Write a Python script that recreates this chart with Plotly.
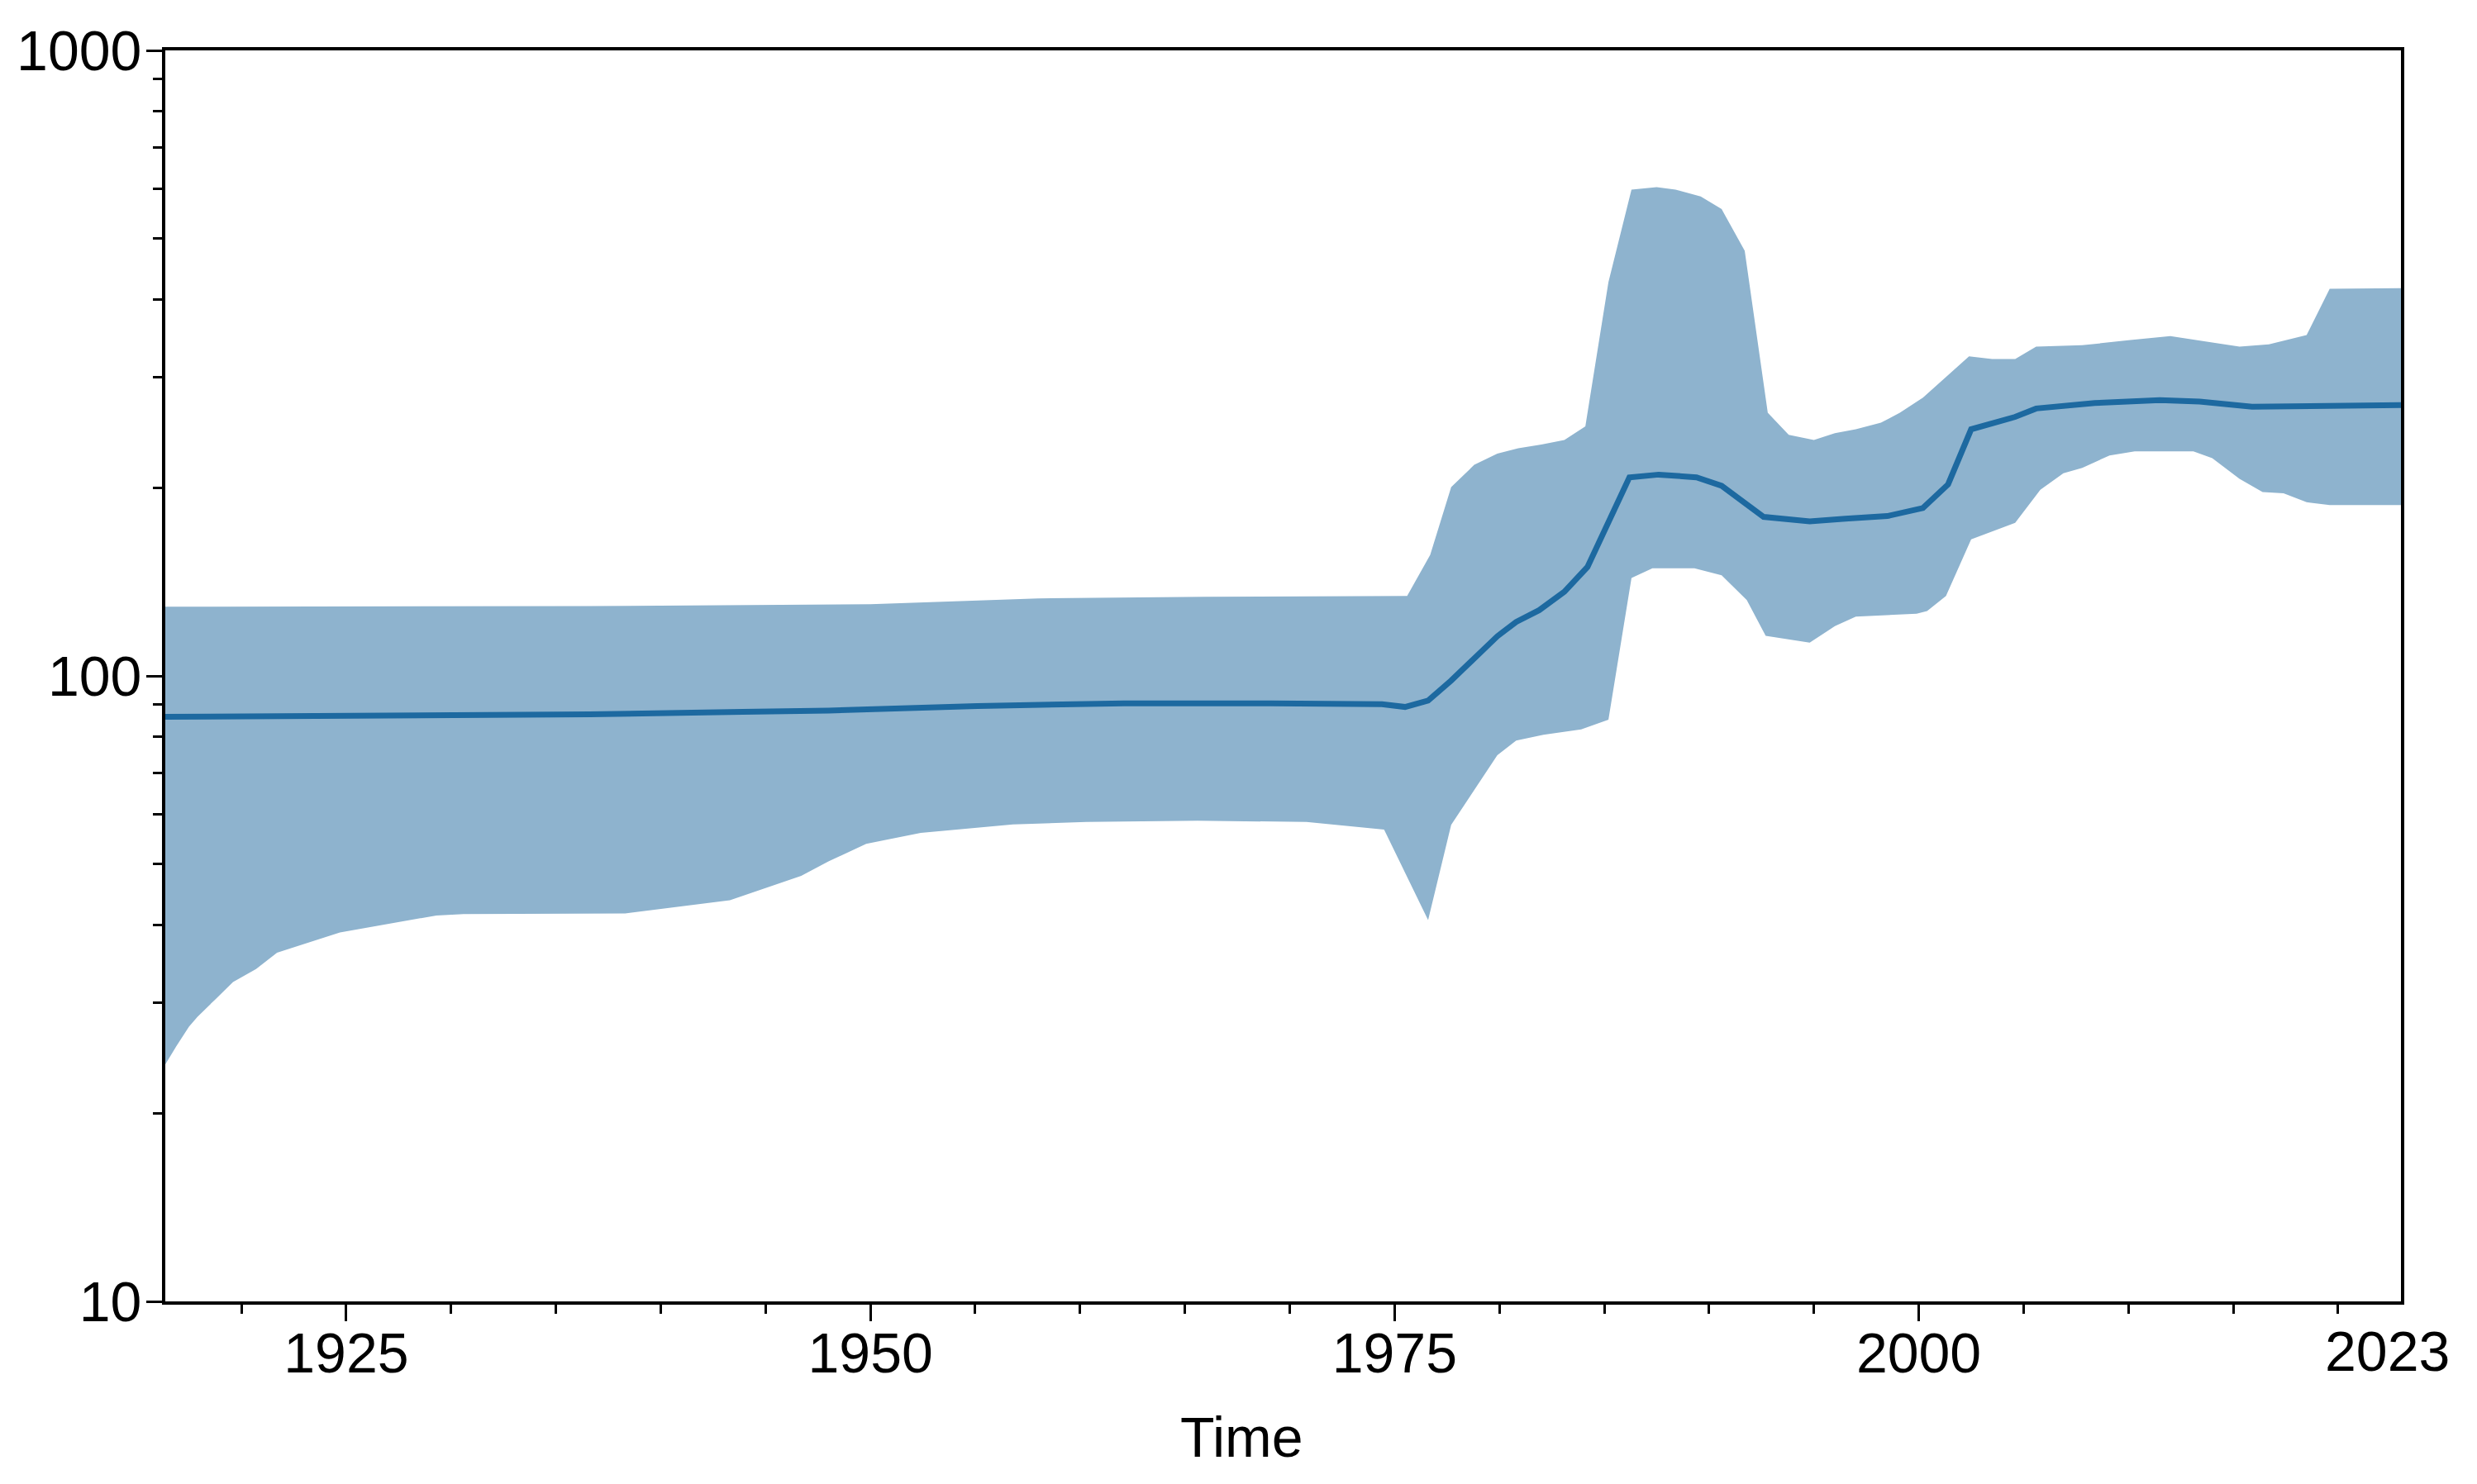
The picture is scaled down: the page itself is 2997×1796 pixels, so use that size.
import plotly.graph_objects as go

# ---- data (year, value) ----
upper_years = [1916.3, 1936.6, 1950.0, 1958.0, 1966.0, 1975.6, 1976.7, 1977.7, 1978.8, 1979.9,
               1980.9, 1982.0, 1983.1, 1984.1, 1985.2, 1986.3, 1987.5, 1988.4, 1989.6, 1990.6,
               1991.7, 1992.8, 1993.8, 1995.0, 1996.0, 1997.0, 1998.2, 1999.1, 2000.2, 2002.4,
               2003.5, 2004.6, 2005.6, 2007.8, 2010.0, 2012.0, 2014.0, 2015.3, 2016.7, 2018.5,
               2019.6, 2023.0]
upper_vals = [129.0, 129.3, 130.2, 133.0, 133.8, 134.2, 156.1, 200.4, 217.5, 226.6,
              231.2, 234.4, 238.3, 250.6, 426.1, 599.0, 604.4, 599.0, 584.0, 557.5,
              478.2, 263.5, 242.8, 238.3, 244.3, 247.9, 254.0, 263.5, 278.5, 324.3,
              321.0, 321.0, 336.0, 337.8, 344.0, 349.3, 341.2, 336.0, 338.8, 350.7,
              415.8, 416.6]

mid_years = [1916.3, 1936.6, 1943.9, 1948.0, 1955.1, 1962.1, 1969.1, 1974.4, 1975.5, 1976.6,
             1977.7, 1979.9, 1980.8, 1981.9, 1983.1, 1984.2, 1986.2, 1987.6, 1989.4, 1990.6,
             1992.6, 1994.8, 1996.5, 1998.5, 2000.2, 2001.4, 2002.5, 2004.6, 2005.6, 2008.4,
             2011.5, 2013.4, 2015.9, 2018.5, 2023.0]
mid_vals = [86.0, 86.8, 87.6, 88.0, 89.5, 90.4, 90.4, 90.1, 89.2, 91.3,
            98.3, 115.7, 122.0, 127.4, 136.3, 149.3, 207.7, 209.8, 207.7, 201.4,
            179.6, 176.6, 178.4, 180.1, 185.5, 202.4, 247.9, 259.5, 267.6, 273.1,
            275.9, 274.5, 269.4, 270.2, 271.0]

lower_years = [1916.3, 1916.9, 1917.5, 1917.9, 1918.8, 1919.6, 1920.7, 1921.7, 1922.8, 1924.7,
               1926.7, 1929.3, 1930.6, 1938.3, 1943.3, 1946.7, 1948.0, 1949.8, 1952.4, 1956.8,
               1960.3, 1965.6, 1970.8, 1974.5, 1976.6, 1977.7, 1979.9, 1980.8, 1982.1, 1983.9,
               1985.2, 1986.3, 1987.3, 1989.3, 1990.6, 1991.8, 1992.7, 1994.8, 1996.0, 1997.0,
               1999.9, 2000.4, 2001.3, 2002.5, 2004.6, 2005.8, 2006.9, 2007.8, 2009.1, 2010.3,
               2013.1, 2014.0, 2015.3, 2016.4, 2017.4, 2018.5, 2019.6, 2023.0]
lower_vals = [23.7, 25.6, 27.5, 28.5, 30.5, 32.4, 34.0, 36.1, 37.1, 38.9,
              40.0, 41.4, 41.6, 41.7, 43.8, 47.9, 50.5, 53.9, 56.1, 57.9,
              58.4, 58.7, 58.4, 56.8, 40.7, 57.8, 74.7, 78.8, 80.5, 82.1,
              85.1, 143.4, 148.6, 148.6, 144.8, 132.2, 115.9, 113.0, 120.1, 124.4,
              125.7, 127.0, 134.2, 165.3, 175.7, 198.4, 210.9, 215.1, 225.1, 228.6,
              228.6, 222.9, 206.5, 196.8, 195.8, 189.5, 187.6, 187.6]

x_tick_vals = [1925, 1950, 1975, 2000]
x_tick_text = ["1925", "1950", "1975", "2000"]
x_last_label = "2023"
x_start, x_end = 1916.37, 2023
y_tick_vals = [10, 100, 1000]
y_tick_text = ["10", "100", "1000"]
x_title = "Time"

FONT = "Liberation Sans, Arial, sans-serif"
FSIZE = 68
FILL = "#8EB3CE"
LINE = "#1D69A0"

fig = go.Figure()
fig.add_trace(go.Scatter(
    x=upper_years + lower_years[::-1],
    y=upper_vals + lower_vals[::-1],
    fill="toself", fillcolor=FILL, mode="lines",
    line=dict(width=0, color=FILL), hoverinfo="skip", showlegend=False))
fig.add_trace(go.Scatter(
    x=mid_years, y=mid_vals, mode="lines",
    line=dict(color=LINE, width=7), showlegend=False))

y_minor = [m * 10 ** e for e in (1, 2) for m in range(2, 10)]

fig.update_layout(
    width=2997, height=1796,
    margin=dict(l=186, r=100, t=53, b=229),
    paper_bgcolor="white", plot_bgcolor="white",
    font=dict(family=FONT, size=FSIZE, color="black"),
    xaxis=dict(
        range=[x_start, x_end], showgrid=False, zeroline=False,
        showline=True, mirror=True, linecolor="black", linewidth=4,
        tickvals=x_tick_vals, ticktext=x_tick_text,
        ticks="outside", ticklen=20, tickwidth=3, tickcolor="black",
        ticklabelstandoff=-20,
        tickfont=dict(family=FONT, size=FSIZE, color="black"),
        minor=dict(dtick=5, tick0=1920, ticks="outside", ticklen=11,
                   tickwidth=3, tickcolor="black", showgrid=False),
    ),
    yaxis=dict(
        type="log", range=[1, 3], showgrid=False, zeroline=False,
        showline=True, mirror=True, linecolor="black", linewidth=4,
        tickvals=y_tick_vals, ticktext=y_tick_text,
        ticks="outside", ticklen=19, tickwidth=3, tickcolor="black",
        ticklabelstandoff=-8,
        tickfont=dict(family=FONT, size=FSIZE, color="black"),
        minor=dict(tickvals=y_minor, ticks="outside", ticklen=11,
                   tickwidth=3, tickcolor="black", showgrid=False),
    ),
)

fig.add_annotation(x=x_end, xref="x", y=0, yref="paper", yanchor="top",
                   text=x_last_label, showarrow=False, xshift=-17, yshift=-20,
                   font=dict(family=FONT, size=FSIZE, color="black"))
fig.add_annotation(x=0.4817, xref="paper", y=-0.1084, yref="paper", yanchor="middle",
                   text=x_title, showarrow=False,
                   font=dict(family=FONT, size=FSIZE, color="black"))

fig.write_html("out.html")
